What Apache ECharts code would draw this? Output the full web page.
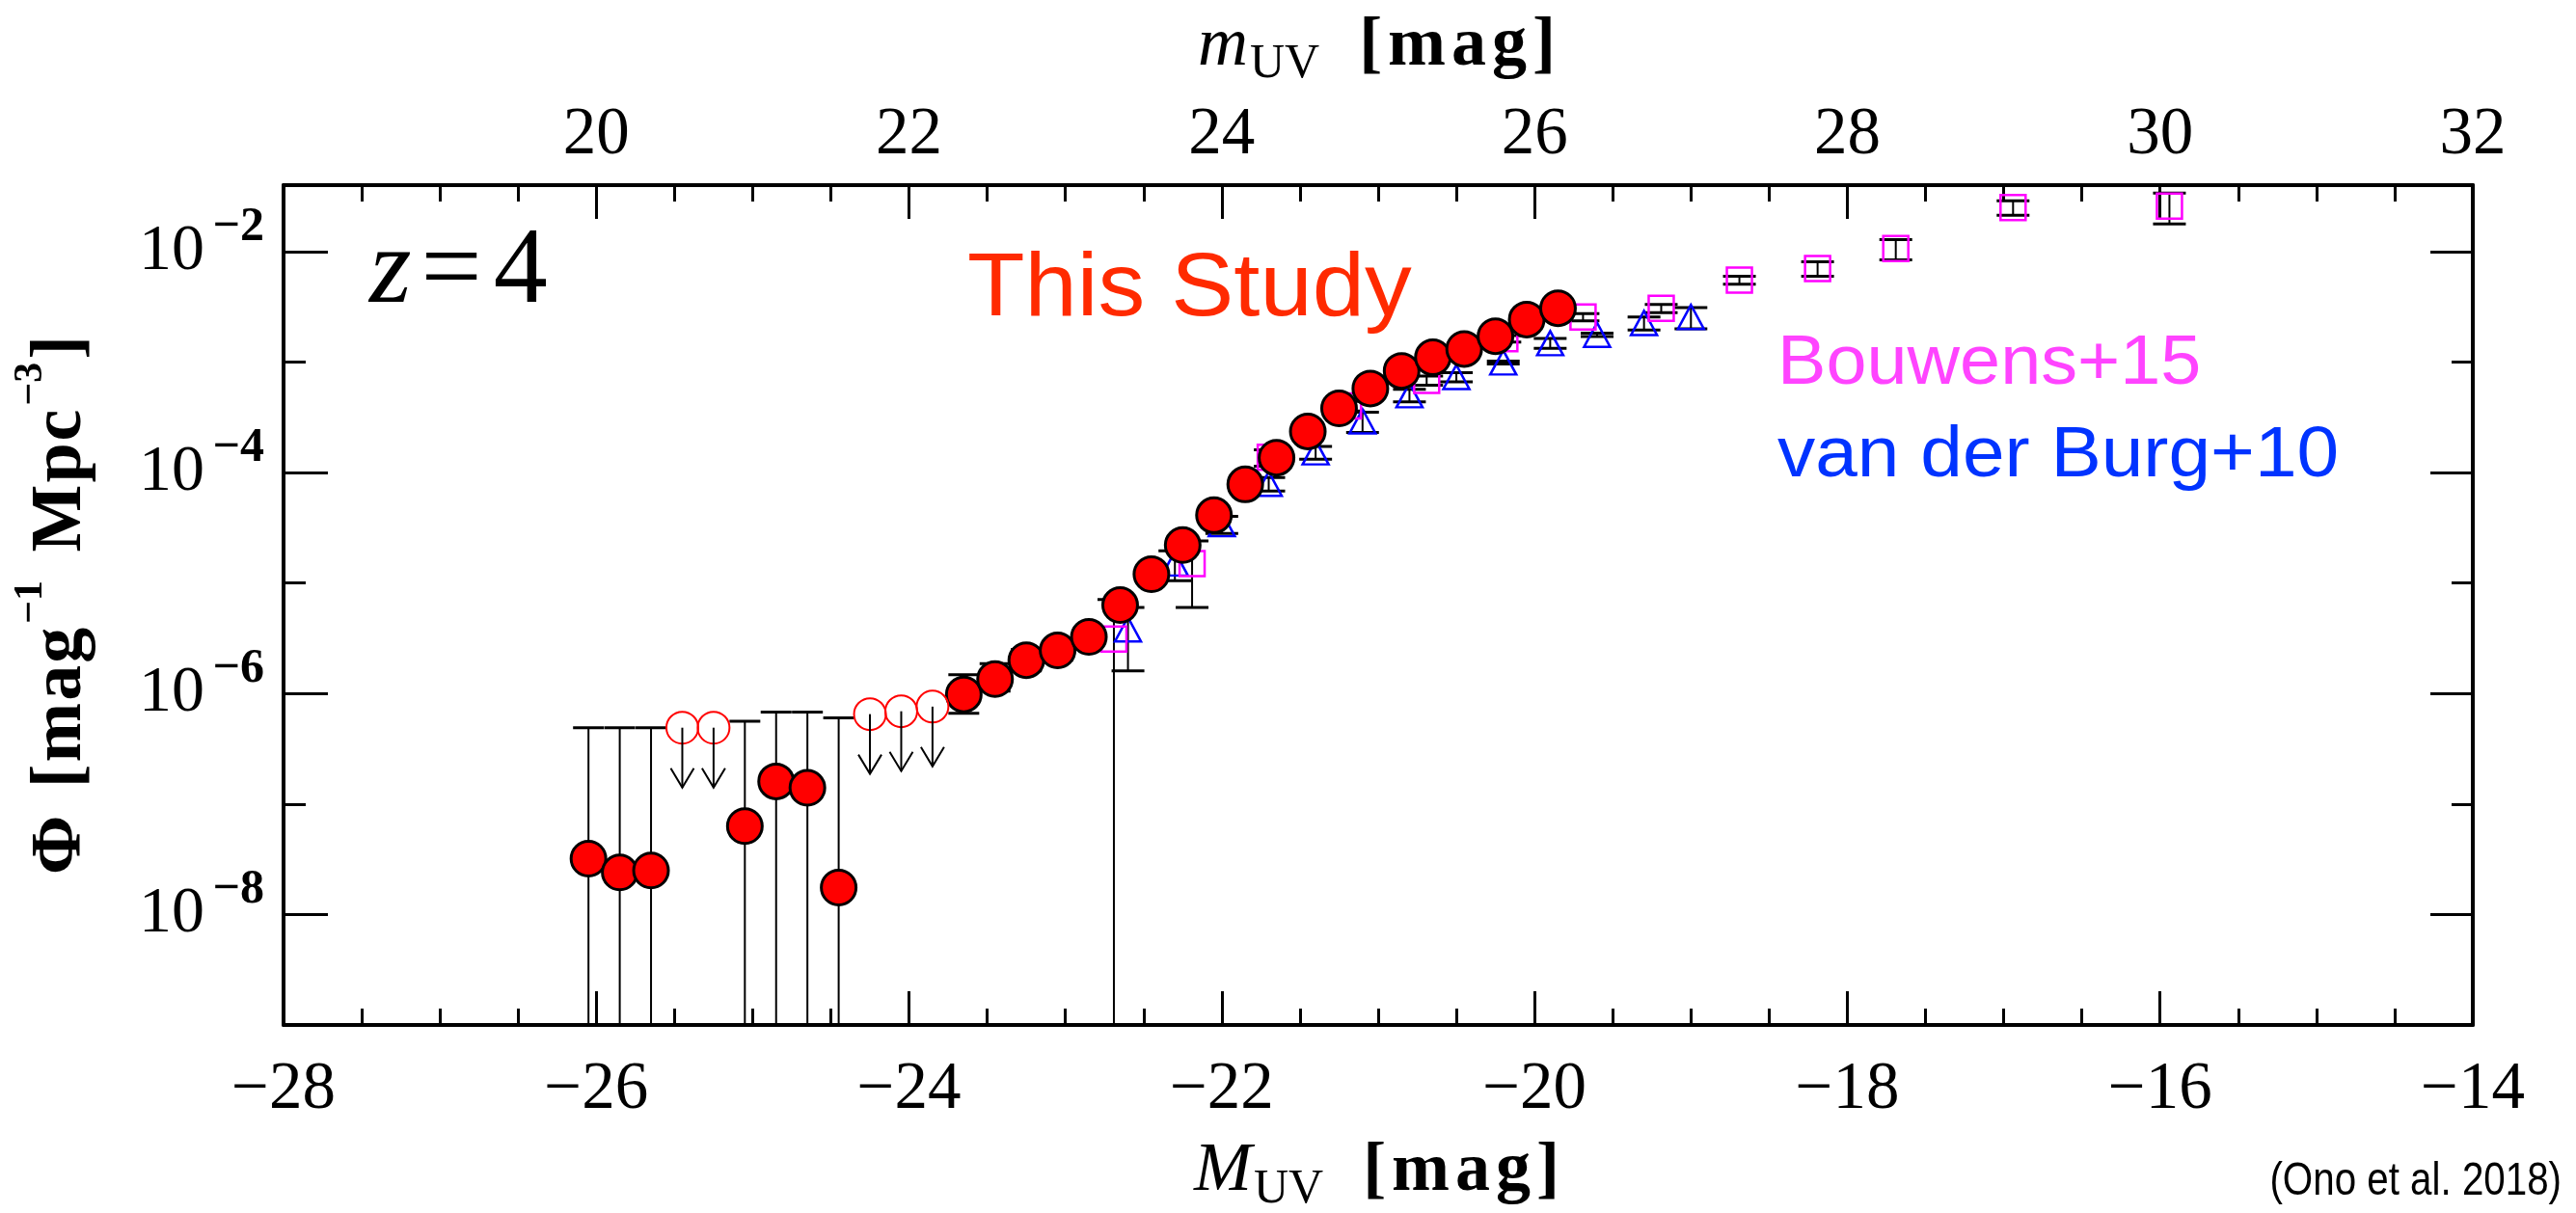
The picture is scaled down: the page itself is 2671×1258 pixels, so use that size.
<!DOCTYPE html>
<html>
<head>
<meta charset="utf-8">
<title>UV luminosity function at z=4</title>
<script src="https://cdn.jsdelivr.net/npm/echarts@6.0.0/dist/echarts.min.js"></script>
<style>
  html, body { margin: 0; padding: 0; background: #ffffff; }
  #chart { width: 2671px; height: 1258px; }
</style>
</head>
<body>
<div id="chart"></div>
<script>
// ---------------------------------------------------------------------------
// z ~ 4 rest-frame UV luminosity function, Phi in mag^-1 Mpc^-3
// ---------------------------------------------------------------------------

// This study: detections (absolute magnitude, Phi, lower / upper bound of the error bar;
// a lower bound of 0 means the bar runs down to zero)
const studyM = [-26.05, -25.85, -25.65, -25.05, -24.85, -24.65, -24.45, -23.65, -23.45,
  -23.25, -23.05, -22.85, -22.65, -22.45, -22.25, -22.05, -21.85, -21.65, -21.45, -21.25,
  -21.05, -20.85, -20.65, -20.45, -20.25, -20.05, -19.85];
const studyPhi = [3.2e-8, 2.4e-8, 2.5e-8, 6.3e-8, 1.6e-7, 1.4e-7, 1.75e-8, 9.8e-7, 1.35e-6,
  2.0e-6, 2.45e-6, 3.25e-6, 6.3e-6, 1.2e-5, 2.2e-5, 4.1e-5, 7.8e-5, 1.36e-4, 2.35e-4, 3.8e-4,
  5.75e-4, 8.3e-4, 1.1e-3, 1.31e-3, 1.71e-3, 2.42e-3, 3.06e-3];
const studyLo = [0, 0, 0, 0, 0, 0, 0, 6.6e-7, 1.05e-6,
  1.6e-6, 2.0e-6, 2.75e-6, 5.5e-6, 1.08e-5, 2.0e-5, 3.8e-5, 7.3e-5, 1.31e-4, 2.26e-4, 3.67e-4,
  5.57e-4, 8.05e-4, 1.07e-3, 1.27e-3, 1.66e-3, 2.35e-3, 2.97e-3];
const studyHi = [4.9e-7, 4.9e-7, 4.9e-7, 5.6e-7, 6.8e-7, 6.8e-7, 6.0e-7, 1.48e-6, 1.86e-6,
  2.5e-6, 2.95e-6, 3.8e-6, 7.2e-6, 1.33e-5, 2.4e-5, 4.4e-5, 8.3e-5, 1.41e-4, 2.43e-4, 3.93e-4,
  5.93e-4, 8.55e-4, 1.13e-3, 1.35e-3, 1.76e-3, 2.49e-3, 3.15e-3];

// This study: upper limits
const limitM = [-25.45, -25.25, -24.25, -24.05, -23.85];
const limitPhi = [4.9e-7, 4.9e-7, 6.5e-7, 6.9e-7, 7.6e-7];

// Bouwens et al. (2015)
const bouwensM = [-22.69, -22.19, -21.69, -21.19, -20.69, -20.19, -19.69, -19.19, -18.69,
  -18.19, -17.69, -16.94, -15.94];
const bouwensPhi = [3.1e-6, 1.5e-5, 1.37e-4, 4.0e-4, 6.8e-4, 1.62e-3, 2.55e-3, 3.05e-3, 5.5e-3,
  7.0e-3, 1.06e-2, 2.5e-2, 2.57e-2];
const bouwensErr = [4.0e-6, 9.0e-6, 2.3e-5, 4.0e-5, 6.5e-5, 1.1e-4, 1.9e-4, 2.6e-4, 4.5e-4,
  1.05e-3, 2.2e-3, 3.7e-3, 8.0e-3];

// van der Burg et al. (2010)
const vdbM = [-22.6, -22.3, -22.0, -21.7, -21.4, -21.1, -20.8, -20.5, -20.2, -19.9, -19.6,
  -19.3, -19.0];
const vdbPhi = [3.8e-6, 1.5e-5, 3.4e-5, 7.9e-5, 1.52e-4, 2.9e-4, 5.0e-4, 7.3e-4, 9.9e-4,
  1.48e-3, 1.76e-3, 2.25e-3, 2.55e-3];
const vdbErr = [2.2e-6, 4.5e-6, 6.0e-6, 1.1e-5, 2.0e-5, 6.0e-5, 6.5e-5, 7.0e-5, 3.0e-5,
  1.5e-4, 6.0e-5, 3.0e-4, 5.6e-4];

// Axes: absolute magnitude (bottom), apparent magnitude (top), Phi (log)
const absMagRange = [-28, -14];
const appMagRange = [18, 32];
const magStep = 2;
const phiRange = [1e-9, Math.pow(10, -1.4)];
const phiLabelTicks = [1e-8, 1e-6, 1e-4, 1e-2];
const phiMinorTicks = [1e-7, 1e-5, 1e-3];

// ---------------------------------------------------------------------------
const SERIF = "'Liberation Serif', 'DejaVu Serif', serif";
const SANS = "'Liberation Sans', 'Noto Sans', Arial, sans-serif";
const MINUS = '\u2212';

const zip = (...cols) => cols[0].map((_, i) => cols.map(c => c[i]));
const symLo = (phi, err) => phi.map((p, i) => Math.max(p - err[i], 0));
const symHi = (phi, err) => phi.map((p, i) => p + err[i]);

// vertical error bar with caps; a bar whose lower bound is not positive runs to the axis floor
function errorBar(capWidth) {
  return function (params, api) {
    const m = api.value(0);
    const lo = api.value(1);
    const hi = api.value(2);
    const cs = params.coordSys;
    const top = api.coord([m, hi]);
    const x = top[0];
    const yHi = top[1];
    const hasLo = lo > phiRange[0];
    const yLo = hasLo ? api.coord([m, lo])[1] : cs.y + cs.height;
    const children = [
      { type: 'line', shape: { x1: x, y1: yHi, x2: x, y2: yLo },
        style: { stroke: '#000', lineWidth: 2 } },
      { type: 'line', shape: { x1: x - capWidth / 2, y1: yHi, x2: x + capWidth / 2, y2: yHi },
        style: { stroke: '#000', lineWidth: 3 } }
    ];
    if (hasLo) {
      children.push({ type: 'line',
        shape: { x1: x - capWidth / 2, y1: yLo, x2: x + capWidth / 2, y2: yLo },
        style: { stroke: '#000', lineWidth: 3 } });
    }
    return { type: 'group', children: children };
  };
}

// downward arrow hanging from an upper-limit point
function limitArrow(params, api) {
  const p = api.coord([api.value(0), api.value(1)]);
  const len = 62, head = 20, half = 12;
  return {
    type: 'group',
    children: [
      { type: 'line', shape: { x1: p[0], y1: p[1], x2: p[0], y2: p[1] + len },
        style: { stroke: '#000', lineWidth: 2 } },
      { type: 'polyline',
        shape: { points: [[p[0] - half, p[1] + len - head], [p[0], p[1] + len],
                          [p[0] + half, p[1] + len - head]] },
        style: { stroke: '#000', lineWidth: 2, fill: null } }
    ]
  };
}

const axisLineStyle = { color: '#000', width: 4 };
const tickLineStyle = { color: '#000', width: 3 };
const tickFont = { fontFamily: SERIF, fontSize: 69, color: '#000' };

function magAxis(position, range, labelFmt, margin, nameText, nameGap) {
  return {
    type: 'value', position: position, min: range[0], max: range[1], interval: magStep,
    axisLine: { show: true, onZero: false, lineStyle: axisLineStyle },
    axisTick: { show: true, inside: true, length: 35, lineStyle: tickLineStyle },
    minorTick: { show: true, splitNumber: 4, length: 17, lineStyle: tickLineStyle },
    splitLine: { show: false }, minorSplitLine: { show: false },
    axisLabel: Object.assign({ show: true, margin: margin, formatter: labelFmt,
      showMinLabel: true, showMaxLabel: true }, tickFont),
    name: nameText, nameLocation: 'middle', nameGap: nameGap, nameMoveOverlap: false,
    nameTextStyle: {
      color: '#000',
      rich: {
        i: { fontFamily: SERIF, fontStyle: 'italic', fontSize: 72, lineHeight: 80, color: '#000' },
        s: { fontFamily: SERIF, fontSize: 50, lineHeight: 80, padding: [38, 4, 0, 2], color: '#000' },
        g: { fontFamily: SERIF, fontSize: 72, lineHeight: 80, color: '#000', padding: [0, 8, 0, 8] },
        b: { fontFamily: SERIF, fontWeight: 'bold', fontSize: 72, lineHeight: 80, color: '#000',
             padding: [0, 3, 0, 3] }
      }
    }
  };
}

function phiAxis(position, ticks, tickLen, showLine, label) {
  const ax = {
    type: 'log', logBase: 10, position: position, min: phiRange[0], max: phiRange[1],
    axisLine: { show: showLine, onZero: false, lineStyle: axisLineStyle },
    axisTick: { show: true, inside: true, length: tickLen, customValues: ticks,
                lineStyle: tickLineStyle },
    minorTick: { show: false }, splitLine: { show: false }, minorSplitLine: { show: false },
    axisLabel: { show: false }
  };
  if (label) ax.axisLabel = label;
  return ax;
}

const magLetters = '{b|[}{b|m}{b|a}{b|g}{b|]}';
const exponent = v => MINUS + Math.round(-Math.log10(v));

const option = {
  animation: false,
  backgroundColor: '#ffffff',
  grid: { left: 294, right: 107, top: 192, bottom: 195, containLabel: false,
          outerBoundsMode: 'none' },
  xAxis: [
    magAxis('bottom', absMagRange, v => (v < 0 ? MINUS : '') + Math.abs(v), 33,
      '{i|M}{s|UV}{g| }' + magLetters, 112),
    magAxis('top', appMagRange, v => (v === appMagRange[0] ? '' : String(v)), 17,
      '{i|m}{s|UV}{g| }' + magLetters, 104)
  ],
  yAxis: [
    Object.assign(phiAxis('left', phiLabelTicks, 46, true, {
      show: true, customValues: phiLabelTicks, formatter: () => '10', margin: 82,
      fontFamily: SERIF, fontSize: 68, color: '#000'
    }), {
      name: '{b|\u03a6}{g| }{b|[}{b|m}{b|a}{b|g}{p|' + MINUS + '1}{g| }{b|M}{b|p}{b|c}{p|' +
            MINUS + '3}{b|]}',
      nameLocation: 'middle', nameRotate: 90, nameGap: 188, nameMoveOverlap: false,
      nameTextStyle: {
        color: '#000',
        rich: {
          b: { fontFamily: SERIF, fontWeight: 'bold', fontSize: 74, lineHeight: 84,
               color: '#000', padding: [0, 1, 0, 1] },
          g: { fontFamily: SERIF, fontSize: 74, lineHeight: 84, color: '#000', padding: [0, 4, 0, 4] },
          p: { fontFamily: SERIF, fontWeight: 'bold', fontSize: 42, lineHeight: 84,
               color: '#000', padding: [0, 2, 64, 3] }
        }
      }
    }),
    phiAxis('left', phiMinorTicks, 23, false, {
      show: true, customValues: phiLabelTicks, formatter: exponent, margin: 20,
      verticalAlign: 'bottom', fontFamily: SERIF, fontWeight: 'bold', fontSize: 50, color: '#000'
    }),
    phiAxis('right', phiLabelTicks, 44, true, null),
    phiAxis('right', phiMinorTicks, 22, false, null)
  ],
  series: [
    {
      name: 'van der Burg+10 errors', type: 'custom', z: 2, clip: true,
      renderItem: errorBar(34), encode: { x: 0, y: 2 },
      data: zip(vdbM, symLo(vdbPhi, vdbErr), symHi(vdbPhi, vdbErr))
    },
    {
      name: 'Bouwens+15 errors', type: 'custom', z: 2, clip: true,
      renderItem: errorBar(34), encode: { x: 0, y: 2 },
      data: zip(bouwensM, symLo(bouwensPhi, bouwensErr), symHi(bouwensPhi, bouwensErr))
    },
    {
      name: 'van der Burg+10', type: 'scatter', z: 3, symbol: 'triangle', symbolSize: [27, 25],
      itemStyle: { color: 'rgba(0,0,0,0)', borderColor: '#0000ff', borderWidth: 2.5, opacity: 1 },
      data: zip(vdbM, vdbPhi)
    },
    {
      name: 'Bouwens+15', type: 'scatter', z: 3, symbol: 'rect', symbolSize: 26,
      itemStyle: { color: 'rgba(0,0,0,0)', borderColor: '#ff00ff', borderWidth: 2.5, opacity: 1 },
      data: zip(bouwensM, bouwensPhi)
    },
    {
      name: 'This study errors', type: 'custom', z: 4, clip: true,
      renderItem: errorBar(32), encode: { x: 0, y: 2 },
      data: zip(studyM, studyLo, studyHi)
    },
    {
      name: 'This study', type: 'scatter', z: 5, symbol: 'circle', symbolSize: 36,
      itemStyle: { color: '#ff0000', borderColor: '#000', borderWidth: 3, opacity: 1 },
      data: zip(studyM, studyPhi)
    },
    {
      name: 'This study upper limits', type: 'scatter', z: 5, symbol: 'circle', symbolSize: 33,
      itemStyle: { color: 'rgba(0,0,0,0)', borderColor: '#ff0000', borderWidth: 2, opacity: 1 },
      data: zip(limitM, limitPhi)
    },
    {
      name: 'Upper-limit arrows', type: 'custom', z: 6,
      renderItem: limitArrow, encode: { x: 0, y: 1 },
      data: zip(limitM, limitPhi)
    }
  ],
  graphic: [
    {
      type: 'text', x: 383, y: 284, z: 10,
      style: {
        text: '{z|z}{e|=}{n|4}', x: 0, y: 0, textAlign: 'left', textVerticalAlign: 'middle',
        rich: {
          z: { fontFamily: SERIF, fontStyle: 'italic', fontSize: 112, fill: '#000', padding: [0, 10, 0, 0] },
          e: { fontFamily: SERIF, fontSize: 112, fill: '#000', padding: [0, 12, 0, 0] },
          n: { fontFamily: SERIF, fontSize: 112, fill: '#000' }
        }
      }
    },
    {
      type: 'text', x: 1003, y: 302, scaleX: 1.06, z: 10,
      style: { text: 'This Study', x: 0, y: 0, textAlign: 'left', textVerticalAlign: 'middle',
               font: "92px " + SANS, fill: '#ff2a00' }
    },
    {
      type: 'text', x: 1843, y: 378, scaleX: 1.05, z: 10,
      style: { text: 'Bouwens+15', x: 0, y: 0, textAlign: 'left', textVerticalAlign: 'middle',
               font: "72px " + SANS, fill: '#ff44ff' }
    },
    {
      type: 'text', x: 1843, y: 474, scaleX: 1.06, z: 10,
      style: { text: 'van der Burg+10', x: 0, y: 0, textAlign: 'left', textVerticalAlign: 'middle',
               font: "74px " + SANS, fill: '#0033ff' }
    },
    {
      type: 'text', x: 2656, y: 1226, scaleX: 0.84, z: 10,
      style: { text: '(Ono et al. 2018)', x: 0, y: 0, textAlign: 'right', textVerticalAlign: 'middle',
               font: "48px " + SANS, fill: '#000' }
    }
  ]
};

const chart = echarts.init(document.getElementById('chart'), null,
  { renderer: 'canvas', width: 2671, height: 1258 });
chart.setOption(option);
</script>
</body>
</html>
